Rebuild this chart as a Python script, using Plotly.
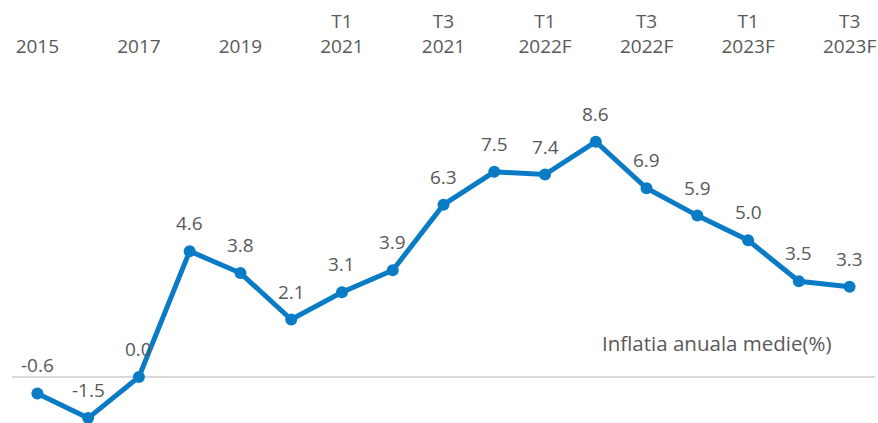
import plotly.graph_objects as go

categories = ["2015", "2016", "2017", "2018", "2019", "2020",
              "T1 2021", "T2 2021", "T3 2021", "T4 2021",
              "T1 2022F", "T2 2022F", "T3 2022F", "T4 2022F",
              "T1 2023F", "T2 2023F", "T3 2023F"]
values = [-0.6, -1.5, 0.0, 4.6, 3.8, 2.1, 3.1, 3.9, 6.3, 7.5, 7.4, 8.6, 6.9, 5.9, 5.0, 3.5, 3.3]
series_name = "Inflatia anuala medie(%)"
tick_labels = ["2015", "2017", "2019", "T1<br>2021", "T3<br>2021",
               "T1<br>2022F", "T3<br>2022F", "T1<br>2023F", "T3<br>2023F"]
tick_positions = categories[::2]

FONT = "Open Sans"
GRAY = "#595959"
BLUE = "#0A7CC6"

fig = go.Figure()
fig.add_trace(go.Scatter(
    x=categories, y=values, name=series_name,
    mode="lines+markers",
    line=dict(color=BLUE, width=5),
    marker=dict(color=BLUE, size=12),
    cliponaxis=False,
    showlegend=False,
    hoverinfo="skip",
))

# data labels (x given as category index so numeric-looking names are not misread)
for i, v in enumerate(values):
    fig.add_annotation(x=i, y=v, text=f"{v:.1f}", showarrow=False,
                       xanchor="center", yanchor="middle", yshift=28,
                       font=dict(family=FONT, size=19, color=GRAY))

fig.add_annotation(
    text=series_name, xref="paper", yref="paper", x=0.817, y=0.219,
    xanchor="center", yanchor="middle",
    showarrow=False, font=dict(family=FONT, size=20.5, color=GRAY),
)

fig.update_layout(
    width=878, height=423,
    margin=dict(l=12, r=3, t=58, b=0),
    paper_bgcolor="white", plot_bgcolor="white",
    font=dict(family=FONT, size=19, color=GRAY),
    xaxis=dict(
        side="top", type="category", range=[-0.5, 16.5], automargin=False,
        tickmode="array", tickvals=tick_positions, ticktext=tick_labels,
        showgrid=False, showline=False, ticks="", zeroline=False,
        tickfont=dict(family=FONT, size=19, color=GRAY),
    ),
    yaxis=dict(
        range=[-1.68, 11.66], showgrid=False, showticklabels=False, automargin=False,
        zeroline=True, zerolinecolor="#D9D9D9", zerolinewidth=2,
        showline=False, ticks="",
    ),
)

fig.write_html("out.html",
               config={"displayModeBar": False},
               post_script="document.body.style.margin='0';document.body.style.overflow='hidden';")
